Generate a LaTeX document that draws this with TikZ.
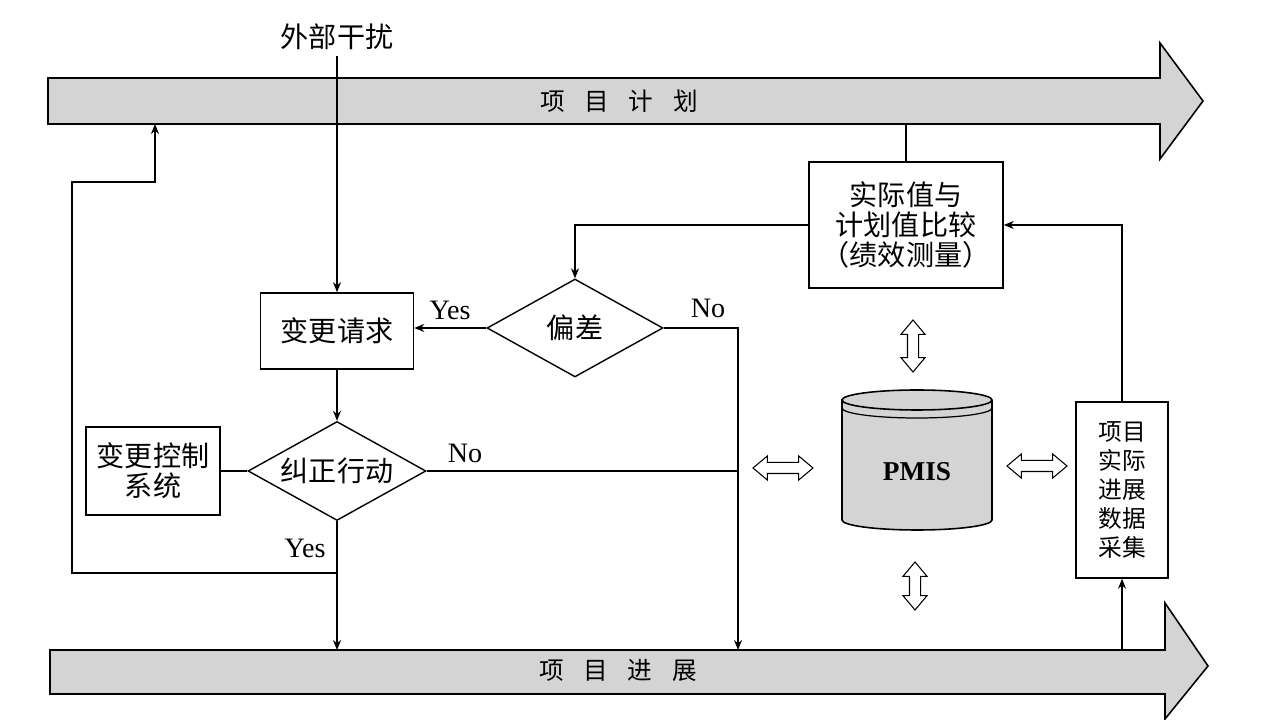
\documentclass[tikz,border=0pt]{standalone}
\usepackage{fontspec}
\setmainfont{Liberation Serif}
\newfontfamily\cjk{Noto Sans CJK SC}
\usetikzlibrary{arrows.meta,positioning,shapes.geometric,shapes.arrows}
\definecolor{stipple}{HTML}{D4D4D4}

\begin{document}
\begin{tikzpicture}[x=0.02cm, y=0.02cm,
  box/.style={draw, line width=0.9pt, align=center, inner sep=2pt, font=\cjk\fontsize{16}{17}\selectfont},
  decide/.style={draw, diamond, aspect=1.8, line width=0.8pt, inner sep=0pt, font=\cjk\fontsize{16}{17}\selectfont},
  arr/.style={-{Stealth[length=2mm, width=1.6mm]}, line width=0.7pt},
  wire/.style={line width=0.7pt},
  lbl/.style={font=\fontsize{16}{17}\selectfont},
  band/.style={draw, line width=0.9pt, fill=stipple},
  bandtext/.style={font=\cjk\fontsize{14}{15}\selectfont},
  hollow/.style={draw, double arrow, line width=0.6pt, fill=white, inner xsep=0pt, inner ysep=0.1cm, double arrow head extend=0.13cm, double arrow tip angle=80}]

\useasboundingbox (0,0) rectangle (1288,720);

% plan and progress bands
\draw[band] (48,596) -- (1160,596) -- (1160,561) -- (1203,619) -- (1160,677) -- (1160,642) -- (48,642) -- cycle;
\node[bandtext] (plan) at (619,619) {项\hspace{0.8em}目\hspace{0.8em}计\hspace{0.8em}划};
\draw[band] (50,26) -- (1165,26) -- (1165,1) -- (1208,54) -- (1165,117) -- (1165,70) -- (50,70) -- cycle;
\node[bandtext] (prog) at (618,50) {项\hspace{0.8em}目\hspace{0.8em}进\hspace{0.8em}展};
\coordinate (planbot) at (0,596);
\coordinate (progtop) at (0,70);

% flow nodes
\node[font=\cjk\fontsize{16}{17}\selectfont] (dist) at (337,683) {外部干扰};
\node[box, minimum width=3.88cm, minimum height=2.52cm] (cmp) at (906,495) {实际值与\\计划值比较\\（绩效测量）};
\node[decide, minimum width=3.52cm, minimum height=1.96cm] (dev) at (575,392) {偏差};
\node[box, minimum width=3.06cm, minimum height=1.52cm] (req) at (337,389) {变更请求};
\node[decide, minimum width=3.56cm, minimum height=1.98cm] (corr) at (337,249) {纠正行动};
\node[box, minimum width=2.68cm, minimum height=1.76cm] (ccs) at (153,249) {变更控制\\系统};
\node[box, minimum width=1.84cm, minimum height=3.52cm, font=\cjk\fontsize{13.5}{16.4}\selectfont] (col) at (1122,230) {项目\\实际\\进展\\数据\\采集};

% PMIS store
\draw[line width=0.9pt, fill=stipple] (842,320) -- (842,200) arc[start angle=180, end angle=360, x radius=1.5cm, y radius=0.2cm] -- (992,320) arc[start angle=0, end angle=180, x radius=1.5cm, y radius=0.2cm] -- cycle;
\draw[line width=0.9pt] (842,320) arc[start angle=180, end angle=360, x radius=1.5cm, y radius=0.2cm];
\draw[line width=0.7pt] (842,312) arc[start angle=180, end angle=360, x radius=1.5cm, y radius=0.2cm];
\node[font=\bfseries\fontsize{15.5}{16}\selectfont] (pmis) at (917,248) {PMIS};

\node[hollow, rotate=90, minimum height=1.04cm] (hup) at (913,374) {};
\node[hollow, rotate=90, minimum height=0.96cm] (hdn) at (915,134) {};
\node[hollow, minimum height=1.2cm] (hlf) at (783,252) {};
\node[hollow, minimum height=1.2cm] (hrt) at (1037,254) {};

% labels
\node[lbl] (yes1) at (450,410) {Yes};
\node[lbl] (no1) at (708,412) {No};
\node[lbl] (no2) at (465,267) {No};
\node[lbl] (yes2) at (305,172) {Yes};

% connectors
\coordinate (nocol) at (738,70);
\coordinate (fbk) at (337,147);
\coordinate (fbkcorner) at (72,538);
\coordinate (planup) at (155,596);

\draw[arr] (dist.south) -- (dist.south |- req.north);
\draw[wire] (cmp.north) -- (cmp.north |- planbot);
\draw[arr] (cmp.west) -| (dev.north);
\draw[arr] (dev.west) -- (dev.west -| req.east);
\draw[arr] (dev.east) -| (nocol);
\draw[arr] (req.south) -- (corr.north);
\draw[wire] (ccs.east) -- (corr.west);
\draw[wire] (corr.east) -- (corr.east -| nocol);
\draw[arr] (corr.south) -- (corr.south |- progtop);
\draw[arr] (fbk) -| (fbkcorner) -| (planup);
\draw[arr] (col.south |- progtop) -- (col.south);
\draw[arr] (col.north) |- (cmp.east);
\end{tikzpicture}
\end{document}
